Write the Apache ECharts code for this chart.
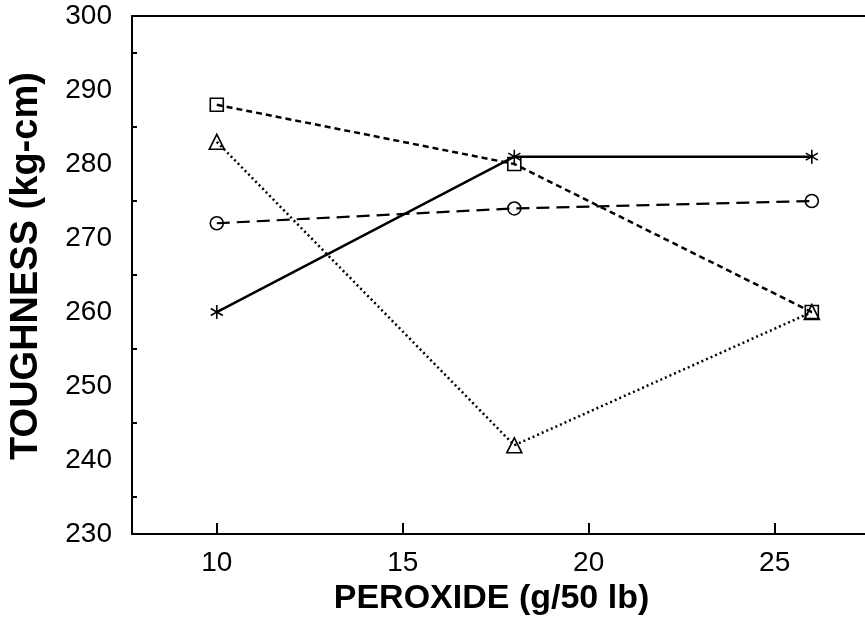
<!DOCTYPE html>
<html>
<head>
<meta charset="utf-8">
<script src="https://cdn.jsdelivr.net/npm/echarts@6/dist/echarts.min.js"></script>
<style>
  html, body { margin: 0; padding: 0; background: #fff; }
  #chart { width: 865px; height: 621px; }
</style>
</head>
<body>
<div id="chart"></div>
<script>
// data
const peroxide = [10, 18, 26];
const starValues = [260, 281, 281];
const circleValues = [272, 274, 275];
const squareValues = [288, 280, 260];
const triangleValues = [283, 242, 260];

const xTicks = [10, 15, 20, 25];
const yLabels = [230, 240, 250, 260, 270, 280, 290, 300];
const yTicks = [235, 245, 255, 265, 275, 285, 295];

const asterisk = "path://M0,-10L0,10M-8.66,-5L8.66,5M-8.66,5L8.66,-5";

const pair = (vals) => peroxide.map((x, i) => [x, vals[i]]);

const chart = echarts.init(document.getElementById("chart"));

const makeSeries = (name, vals, symbol, size, lineType, width) => ({
  name: name,
  type: "line",
  data: pair(vals),
  symbol: symbol,
  symbolSize: size,
  symbolKeepAspect: true,
  lineStyle: { color: "#000", width: width, type: lineType },
  itemStyle: { color: "rgba(0,0,0,0)", borderColor: "#000", borderWidth: 1.6 },
  emphasis: { disabled: true },
});

const option = {
  animation: false,
  backgroundColor: "#fff",
  grid: { left: 130, right: 0, top: 16, bottom: 79 },
  xAxis: [
    {
      type: "value",
      min: 7.72,
      max: 27.43,
      name: "PEROXIDE (g/50 lb)",
      nameLocation: "middle",
      nameGap: 41,
      nameTextStyle: {
        fontFamily: "Liberation Sans",
        fontWeight: "bold",
        fontSize: 34,
        color: "#000",
        padding: [0, 14, 0, 0],
      },
      axisLine: { lineStyle: { color: "#000", width: 2 } },
      axisTick: { inside: true, length: 11, lineStyle: { color: "#000", width: 2 }, customValues: xTicks },
      axisLabel: { fontFamily: "Liberation Sans", fontSize: 28, color: "#000", margin: 15, customValues: xTicks },
      splitLine: { show: false },
    },
    {
      type: "value",
      position: "top",
      min: 7.72,
      max: 27.43,
      axisLine: { show: true, lineStyle: { color: "#000", width: 2 } },
      axisTick: { show: false },
      axisLabel: { show: false },
      splitLine: { show: false },
    },
  ],
  yAxis: {
    type: "value",
    min: 230,
    max: 300,
    name: "TOUGHNESS (kg-cm)",
    nameLocation: "middle",
    nameRotate: 90,
    nameGap: 86,
    nameTextStyle: {
      fontFamily: "Liberation Sans",
      fontWeight: "bold",
      fontSize: 38,
      color: "#000",
      padding: [0, 0, 0, 18],
    },
    axisLine: { show: true, lineStyle: { color: "#000", width: 2 } },
    axisTick: { inside: true, length: 5, lineStyle: { color: "#000", width: 2 }, customValues: yTicks },
    axisLabel: { fontFamily: "Liberation Sans", fontSize: 28, color: "#000", margin: 20, customValues: yLabels },
    splitLine: { show: false },
  },
  series: [
    makeSeries("star", starValues, asterisk, 14, "solid", 2.5),
    makeSeries("circle", circleValues, "circle", 13, [13, 7], 2.2),
    makeSeries("square", squareValues, "rect", 13, [6, 4], 2.5),
    makeSeries("triangle", triangleValues, "triangle", 15, [2, 3], 2.5),
  ],
};

chart.setOption(option);
</script>
</body>
</html>
